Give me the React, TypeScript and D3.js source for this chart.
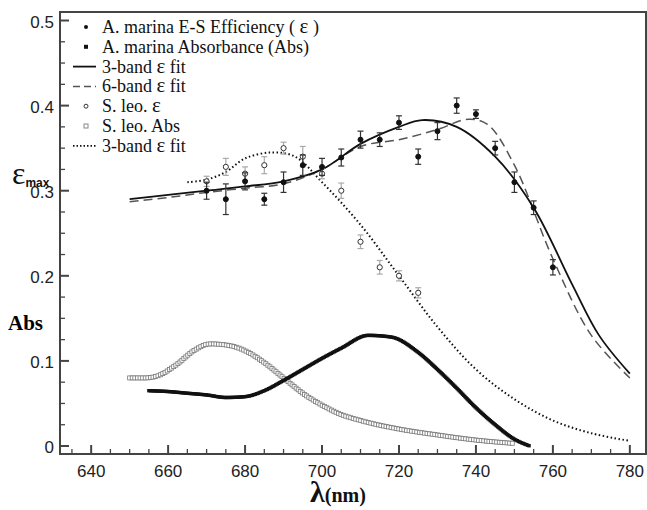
import React, { useEffect, useRef } from 'react';
import * as d3 from 'd3';

// A. marina E-S efficiency (filled circles)
const amWl = [670, 675, 680, 685, 690, 695, 700, 705, 710, 715, 720, 725, 730, 735, 740, 745, 750, 755, 760];
const amEps = [0.30, 0.29, 0.311, 0.29, 0.31, 0.33, 0.328, 0.339, 0.36, 0.36, 0.38, 0.34, 0.37, 0.40, 0.39, 0.35, 0.31, 0.28, 0.21];
const amErr = [0.01, 0.018, 0.01, 0.007, 0.012, 0.012, 0.01, 0.01, 0.01, 0.008, 0.008, 0.009, 0.01, 0.009, 0.005, 0.008, 0.012, 0.008, 0.009];
// S. leo efficiency (open circles)
const slWl = [670, 675, 680, 685, 690, 695, 700, 705, 710, 715, 720, 725];
const slEps = [0.311, 0.328, 0.32, 0.33, 0.35, 0.34, 0.32, 0.30, 0.24, 0.21, 0.20, 0.18];
const slErr = [0.006, 0.01, 0.008, 0.01, 0.007, 0.012, 0.006, 0.009, 0.008, 0.008, 0.006, 0.006];
// fits
const fit3Wl = [650, 660, 670, 680, 690, 700, 710, 720, 726, 735, 745, 755, 765, 772, 780];
const fit3 = [0.29, 0.295, 0.30, 0.305, 0.311, 0.325, 0.355, 0.375, 0.383, 0.375, 0.34, 0.28, 0.19, 0.13, 0.085];
const fit6Wl = [650, 660, 670, 680, 690, 700, 710, 720, 730, 738, 743, 750, 760, 770, 780];
const fit6 = [0.287, 0.292, 0.298, 0.303, 0.308, 0.325, 0.352, 0.36, 0.372, 0.384, 0.378, 0.33, 0.22, 0.13, 0.08];
const fitSlWl = [665, 670, 675, 680, 687, 693, 700, 710, 720, 730, 740, 750, 760, 770, 780];
const fitSl = [0.31, 0.313, 0.322, 0.338, 0.345, 0.34, 0.31, 0.26, 0.20, 0.14, 0.09, 0.055, 0.03, 0.015, 0.006];
// absorbance
const amAbsWl = [655, 660, 665, 670, 675, 680, 685, 690, 695, 700, 705, 712, 718, 725, 730, 735, 740, 745, 750, 754];
const amAbs = [0.065, 0.064, 0.062, 0.06, 0.057, 0.058, 0.065, 0.077, 0.09, 0.103, 0.115, 0.13, 0.128, 0.11, 0.09, 0.068, 0.045, 0.025, 0.008, 0.0];
const slAbsWl = [650, 654, 657, 662, 667, 671, 676, 680, 685, 690, 695, 700, 705, 710, 720, 730, 740, 750];
const slAbs = [0.08, 0.08, 0.082, 0.095, 0.113, 0.12, 0.118, 0.112, 0.098, 0.08, 0.062, 0.048, 0.037, 0.03, 0.02, 0.013, 0.007, 0.003];

const xTicks = [640, 660, 680, 700, 720, 740, 760, 780];
const yTicks = [0, 0.1, 0.2, 0.3, 0.4, 0.5];
const legendItems = ['A. marina E-S Efficiency ( ', 'A. marina Absorbance (Abs)', '3-band ', '6-band ', 'S. leo. ', 'S. leo. Abs', '3-band '];

const App: React.FC = () => {
  const svgRef = useRef<SVGSVGElement | null>(null);

  useEffect(() => {
    if (svgRef.current == null) return;
    const svg = d3.select(svgRef.current);
    svg.selectAll('*').remove();

    const left = 60, right = 646, top = 12, bottom = 454;
    const x = d3.scaleLinear().domain([631.9, 784.2]).range([left, right]);
    const y = d3.scaleLinear().domain([-0.0094, 0.51]).range([bottom, top]);

    svg.append('rect').attr('width', 647).attr('height', 510).attr('fill', '#fff');

    // axes frame
    svg.append('rect').attr('x', left).attr('y', top).attr('width', right - left).attr('height', bottom - top)
      .attr('fill', 'none').attr('stroke', '#444').attr('stroke-width', 2);

    const ax = svg.append('g').attr('stroke', '#444');
    d3.range(635, 784, 5).forEach(v => {
      const major = v % 20 === 0;
      ax.append('line').attr('x1', x(v)).attr('x2', x(v)).attr('y1', bottom).attr('y2', bottom - (major ? 9 : 5)).attr('stroke-width', major ? 2 : 1.3);
    });
    d3.range(0, 0.51, 0.025).forEach(v => {
      const major = Math.abs(v * 10 - Math.round(v * 10)) < 1e-6;
      ax.append('line').attr('x1', left).attr('x2', left + (major ? 9 : 5)).attr('y1', y(v)).attr('y2', y(v)).attr('stroke-width', major ? 2 : 1.3);
    });
    const tf = 'Liberation Sans, Arial, sans-serif';
    xTicks.forEach(v => svg.append('text').attr('x', x(v)).attr('y', bottom + 23).attr('text-anchor', 'middle')
      .attr('font-family', tf).attr('font-size', 17).attr('fill', '#222').text(v));
    yTicks.forEach(v => svg.append('text').attr('x', left - 6).attr('y', y(v) + 7).attr('text-anchor', 'end')
      .attr('font-family', tf).attr('font-size', 17).attr('fill', '#222').text(v === 0 ? '0' : v.toFixed(1)));

    const serif = 'Liberation Serif, Times New Roman, serif';
    // axis titles
    const eps = svg.append('text').attr('x', 12).attr('y', 184).attr('font-family', serif).attr('font-size', 32).attr('fill', '#111');
    eps.append('tspan').text('ε');
    eps.append('tspan').attr('font-family', tf).attr('font-size', 12).attr('font-weight', 'bold').attr('dy', 3).text('max');
    svg.append('text').attr('x', 8).attr('y', 330).attr('font-family', serif).attr('font-size', 21).attr('font-weight', 'bold').text('Abs');
    const xl = svg.append('text').attr('x', 338).attr('y', 502).attr('text-anchor', 'middle').attr('font-family', serif).attr('font-weight', 'bold').attr('fill', '#111');
    xl.append('tspan').attr('font-size', 30).text('λ');
    xl.append('tspan').attr('font-size', 20).text('(nm)');

    const line = d3.line<[number, number]>().x(d => x(d[0])).y(d => y(d[1])).curve(d3.curveMonotoneX);
    const smooth = d3.line<[number, number]>().x(d => x(d[0])).y(d => y(d[1])).curve(d3.curveCatmullRom);
    const zip = (a: number[], b: number[]) => a.map((v, i) => [v, b[i]] as [number, number]);

    // absorbance: dense markers sampled along the curve
    const abs = (wl: number[], vals: number[], open: boolean) => {
      const p = svg.append('path').attr('d', line(zip(wl, vals))).attr('fill', 'none')
        .attr('stroke', open ? '#999' : '#111').attr('stroke-width', open ? 1 : 2.5);
      const node = p.node() as SVGPathElement;
      const len = node.getTotalLength();
      for (let l = 0; l <= len; l += open ? 2.6 : 1.6) {
        const pt = node.getPointAtLength(l);
        const s = open ? 4 : 3.4;
        svg.append('rect').attr('x', pt.x - s / 2).attr('y', pt.y - s / 2).attr('width', s).attr('height', s)
          .attr('fill', open ? '#fff' : '#111').attr('stroke', open ? '#777' : 'none').attr('stroke-width', 0.8);
      }
    };
    abs(slAbsWl, slAbs, true);
    abs(amAbsWl, amAbs, false);

    // fits
    svg.append('path').attr('d', smooth(zip(fitSlWl, fitSl))).attr('fill', 'none').attr('stroke', '#111').attr('stroke-width', 2).attr('stroke-dasharray', '1.5,2.5');
    svg.append('path').attr('d', smooth(zip(fit6Wl, fit6))).attr('fill', 'none').attr('stroke', '#555').attr('stroke-width', 1.5).attr('stroke-dasharray', '9,5');
    svg.append('path').attr('d', smooth(zip(fit3Wl, fit3))).attr('fill', 'none').attr('stroke', '#111').attr('stroke-width', 1.8);

    // error bars + points
    const pts = (wl: number[], v: number[], e: number[], open: boolean) => {
      const c = open ? '#aaa' : '#333';
      wl.forEach((w, i) => {
        const g = svg.append('g').attr('stroke', c).attr('stroke-width', 1.2);
        g.append('line').attr('x1', x(w)).attr('x2', x(w)).attr('y1', y(v[i] - e[i])).attr('y2', y(v[i] + e[i]));
        g.append('line').attr('x1', x(w) - 3).attr('x2', x(w) + 3).attr('y1', y(v[i] - e[i])).attr('y2', y(v[i] - e[i]));
        g.append('line').attr('x1', x(w) - 3).attr('x2', x(w) + 3).attr('y1', y(v[i] + e[i])).attr('y2', y(v[i] + e[i]));
        svg.append('circle').attr('cx', x(w)).attr('cy', y(v[i])).attr('r', open ? 2.6 : 2.5)
          .attr('fill', open ? '#fff' : '#111').attr('stroke', open ? '#333' : '#111').attr('stroke-width', 1);
      });
    };
    pts(slWl, slEps, slErr, true);
    pts(amWl, amEps, amErr, false);

    // legend
    legendItems.forEach((t, i) => {
      const yy = 27 + i * 19.8;
      const mk = svg.append('g');
      if (i === 0) mk.append('circle').attr('cx', 86).attr('cy', yy).attr('r', 2).attr('fill', '#111');
      if (i === 1) mk.append('rect').attr('x', 84).attr('y', yy - 2).attr('width', 4).attr('height', 4).attr('fill', '#111');
      if (i === 2) mk.append('line').attr('x1', 73).attr('x2', 96).attr('y1', yy).attr('y2', yy).attr('stroke', '#111').attr('stroke-width', 1.8);
      if (i === 3) mk.append('line').attr('x1', 73).attr('x2', 96).attr('y1', yy).attr('y2', yy).attr('stroke', '#555').attr('stroke-width', 1.5).attr('stroke-dasharray', '7,4');
      if (i === 4) mk.append('circle').attr('cx', 86).attr('cy', yy).attr('r', 2).attr('fill', '#fff').attr('stroke', '#333');
      if (i === 5) mk.append('rect').attr('x', 84).attr('y', yy - 2).attr('width', 4).attr('height', 4).attr('fill', '#fff').attr('stroke', '#888');
      if (i === 6) mk.append('line').attr('x1', 73).attr('x2', 96).attr('y1', yy).attr('y2', yy).attr('stroke', '#111').attr('stroke-width', 1.8).attr('stroke-dasharray', '1.5,2');
      const tx = svg.append('text').attr('x', 102).attr('y', yy + 6).attr('font-family', serif).attr('font-size', 18).attr('fill', '#111');
      tx.append('tspan').text(t);
      if (i === 0) { tx.append('tspan').attr('font-size', 21).text('ε'); tx.append('tspan').text(' )'); }
      if (i === 2 || i === 3 || i === 6) { tx.append('tspan').attr('font-size', 21).text('ε'); tx.append('tspan').text('  fit'); }
      if (i === 4) tx.append('tspan').attr('font-size', 21).text('ε');
    });
  }, []);

  return <svg ref={svgRef} width={647} height={510} style={{ position: 'absolute', left: 0, top: 0 }}></svg>;
};

export default App;
